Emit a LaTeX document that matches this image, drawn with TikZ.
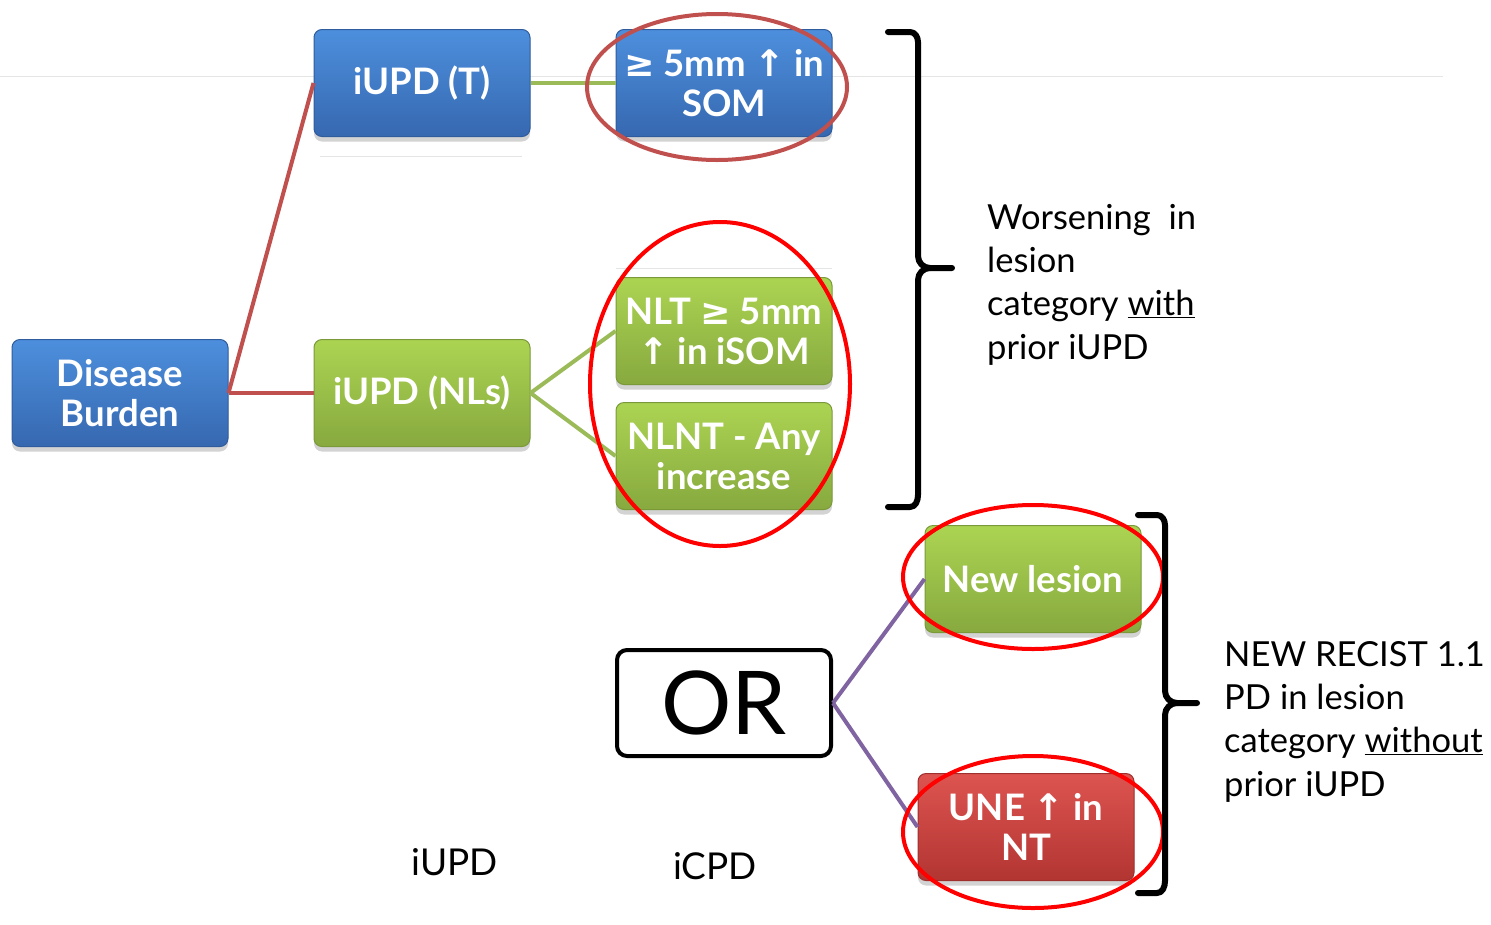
\documentclass[tikz,border=0pt]{standalone}
\usepackage{fontspec}
\setmainfont{Lato}
\newfontfamily\symfont{DejaVu Sans}
\usetikzlibrary{shadows}
\definecolor{bluetop}{HTML}{4D8FDD}
\definecolor{bluebot}{HTML}{3668B0}
\definecolor{blueedge}{HTML}{2F5C9C}
\definecolor{greentop}{HTML}{ACD452}
\definecolor{greenbot}{HTML}{87A93F}
\definecolor{greenedge}{HTML}{7A9A3A}
\definecolor{redtop}{HTML}{DD5450}
\definecolor{redbot}{HTML}{B23532}
\definecolor{rededge}{HTML}{9E2F2C}
\definecolor{linkred}{HTML}{C0504D}
\definecolor{linkgreen}{HTML}{9BBB59}
\definecolor{linkpurple}{HTML}{8064A2}
\definecolor{ringdark}{HTML}{C0504D}
\definecolor{ringbright}{HTML}{FF0000}
\newcommand{\up}{{\symfont\char"2191}}
\newcommand{\geqs}{{\symfont\char"2265}}
\tikzset{
  boxbase/.style={rounded corners=8pt, minimum width=216pt, minimum height=107pt,
    inner sep=0pt, align=center, text=white, line width=1pt,
    font=\bfseries\fontsize{36.5}{40}\selectfont,
    drop shadow={opacity=0.35, shadow xshift=0pt, shadow yshift=-5pt}},
  bluebox/.style={boxbase, draw=blueedge, top color=bluetop, bottom color=bluebot},
  greenbox/.style={boxbase, draw=greenedge, top color=greentop, bottom color=greenbot},
  redbox/.style={boxbase, draw=rededge, top color=redtop, bottom color=redbot},
  link/.style={line width=4pt},
  ring/.style={line width=4pt},
  brace/.style={line width=6pt, line cap=round, line join=round},
  note/.style={anchor=north west, align=left, inner sep=0pt,
    font=\fontsize{34.5}{43.3}\selectfont},
  guide/.style={line width=1pt, draw=black!10}
}
\begin{document}
\begin{tikzpicture}[x=1pt,y=-1pt]
\useasboundingbox (0,0) rectangle (1491,924);

% faint guide lines in the background
\coordinate (gl) at (0,76);
\coordinate (gr) at (1443,76);
\draw[guide] (gl) -- (gr);
\coordinate (g1a) at (320,156);
\coordinate (g1b) at (522,156);
\draw[guide] (g1a) -- (g1b);
\coordinate (g2a) at (616,268);
\coordinate (g2b) at (832,268);
\draw[guide] (g2a) -- (g2b);

% boxes
\node[bluebox]  (db)   at (120,393) {Disease\\Burden};
\node[bluebox]  (iupt) at (422,83)  {iUPD (T)};
\node[bluebox]  (som)  at (724,83)  {\geqs{} 5mm \up{} in\\SOM};
\node[greenbox] (iupn) at (422,393) {iUPD (NLs)};
\node[greenbox] (nlt)  at (724,331) {NLT \geqs{} 5mm\\\up{} in iSOM};
\node[greenbox] (nlnt) at (724,456) {NLNT - Any\\increase};
\node[greenbox] (newl) at (1033,579) {New lesion};
\node[redbox]   (une)  at (1026,827) {UNE \up{} in\\NT};
\node[draw, line width=4pt, rounded corners=10pt, fill=white,
      minimum width=214pt, minimum height=106pt, inner sep=0pt,
      font=\fontsize{88}{90}\selectfont] (or) at (724,703) {OR};

% connectors
\draw[link, linkred] (db.east) -- (iupt.west);
\draw[link, linkred] (db.east) -- (iupn.west);
\draw[link, linkgreen] (iupt.east) -- (som.west);
\draw[link, linkgreen] (iupn.east) -- (nlt.west);
\draw[link, linkgreen] (iupn.east) -- (nlnt.west);
\draw[link, linkpurple] (or.east) -- (newl.west);
\draw[link, linkpurple] (or.east) -- (une.west);

% highlight rings
\draw[ringdark, ring] (717,87) ellipse [x radius=130pt, y radius=73pt];
\draw[ringbright, ring] (720,384) ellipse [x radius=130pt, y radius=162pt];
\draw[ringbright, ring] (1033,577) ellipse [x radius=130pt, y radius=72pt];
\draw[ringbright, ring] (1033,832) ellipse [x radius=130pt, y radius=76pt];

% braces
\coordinate (b1t) at (888,32);
\coordinate (b1m) at (952,268);
\coordinate (b1b) at (888,507);
\draw[brace] (b1t) -- (910,32) to[out=0,in=90] (918,42) -- (918,256)
  to[out=-90,in=180] (930,268) -- (b1m);
\draw[brace] (930,268) to[out=180,in=90] (918,280) -- (918,495)
  to[out=-90,in=0] (910,507) -- (b1b);
\coordinate (b2t) at (1138,515);
\coordinate (b2m) at (1197,703);
\coordinate (b2b) at (1138,893);
\draw[brace] (b2t) -- (1157,515) to[out=0,in=90] (1165,525) -- (1165,691)
  to[out=-90,in=180] (1177,703) -- (b2m);
\draw[brace] (1177,703) to[out=180,in=90] (1165,715) -- (1165,881)
  to[out=-90,in=0] (1157,893) -- (b2b);

% annotations
\node[note] (w) at (987,204) {Worsening\ \ in\\lesion\\category \underline{with}\\prior iUPD};
\node[note] (n) at (1224,641) {NEW RECIST 1.1\\PD in lesion\\category \underline{without}\\prior iUPD};
\node[font=\fontsize{37}{40}\selectfont] (l1) at (455,862) {iUPD};
\node[font=\fontsize{37}{40}\selectfont] (l2) at (715,866) {iCPD};
\end{tikzpicture}
\end{document}
